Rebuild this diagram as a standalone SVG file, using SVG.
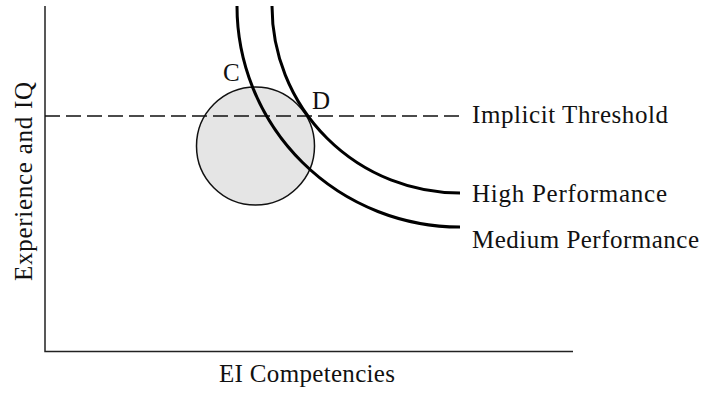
<svg xmlns="http://www.w3.org/2000/svg" width="707" height="393" viewBox="0 0 707 393">
<style>
text{font-family:"Liberation Serif","Times New Roman",serif;font-size:25px;fill:#111}
.axis{stroke:#222;stroke-width:1.5;fill:none}
.curve{stroke:#000;stroke-width:3;fill:none}
.dash{stroke:#111;stroke-width:1.3;stroke-dasharray:15 6;fill:none}
</style>
<rect width="707" height="393" fill="#fff"/>
<g id="axes">
<path class="axis" d="M45,6 V351.5 H573"/>
</g>
<g id="region">
<circle cx="255.5" cy="146" r="59" fill="#e5e5e5" stroke="#111" stroke-width="1.5"/>
</g>
<g id="connectors">
<path class="dash" d="M45,116 H461"/>
<path id="medium-curve" class="curve" d="M237,6 A223,221 0 0 0 460,227"/>
<path id="high-curve" class="curve" d="M272,6 A188,187 0 0 0 460,193"/>
</g>
<g id="label-C"><text x="223" y="81">C</text></g>
<g id="label-D"><text x="312" y="109">D</text></g>
<g id="label-threshold"><text x="472" y="123" textLength="196" lengthAdjust="spacing">Implicit Threshold</text></g>
<g id="label-high"><text x="472" y="202" textLength="195" lengthAdjust="spacing">High Performance</text></g>
<g id="label-medium"><text x="472" y="248" textLength="227" lengthAdjust="spacing">Medium Performance</text></g>
<g id="label-x"><text x="219" y="382" textLength="176" lengthAdjust="spacing">EI Competencies</text></g>
<g id="label-y"><text transform="translate(32,281) rotate(-90)" x="0" y="0" textLength="199" lengthAdjust="spacing">Experience and IQ</text></g>
</svg>
